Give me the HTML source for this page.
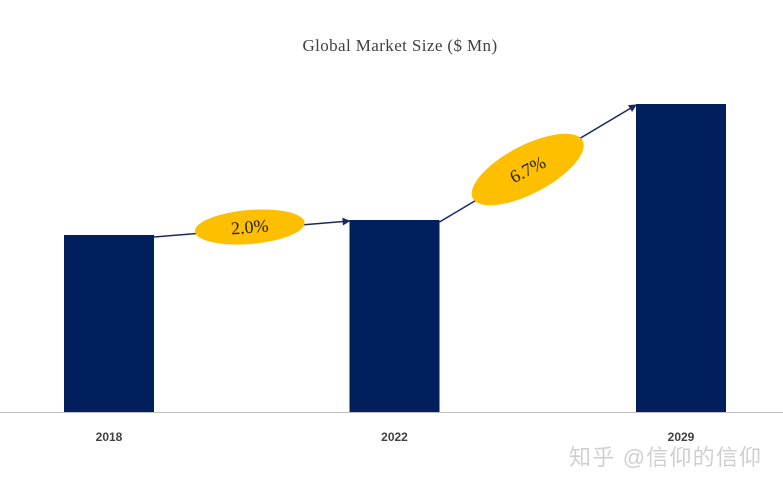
<!DOCTYPE html>
<html><head><meta charset="utf-8"><style>
body{margin:0;background:#fff;width:783px;height:488px;overflow:hidden}
svg{display:block}
</style></head><body>
<svg width="783" height="488">
<defs><marker id="ah" markerWidth="8" markerHeight="8" refX="7" refY="4" orient="auto" markerUnits="userSpaceOnUse"><path d="M0,0 L8,4 L0,8 Z" fill="#1a2a5e"/></marker></defs>
<text x="400" y="51" text-anchor="middle" font-family="'Liberation Serif',serif" font-size="17" letter-spacing="0.4" fill="#404040">Global Market Size ($ Mn)</text>
<line x1="0" y1="412.5" x2="783" y2="412.5" stroke="#bfbfbf" stroke-width="1"/>
<g id="bars"></g>
<g id="growth"></g>
<text x="569" y="465" font-family="'Liberation Sans','Noto Sans CJK SC',sans-serif" font-size="22" letter-spacing="1.2" fill="#cfcfcf">知乎 @信仰的信仰</text>
</svg>
<script>
const categories=['2018','2022','2029'];
const values=[177,192,308];
const growthLabels=['2.0%','6.7%'];
const baseY=412, scale=1, barW=90;
const centers=[109,394.5,681];
const ns='http://www.w3.org/2000/svg';
function y(v){return baseY-v*scale;}
const gb=document.getElementById('bars');
categories.forEach((c,i)=>{
 const r=document.createElementNS(ns,'rect');
 r.setAttribute('x',centers[i]-barW/2);r.setAttribute('y',y(values[i]));
 r.setAttribute('width',barW);r.setAttribute('height',baseY-y(values[i]));
 r.setAttribute('fill','#001f5c');
 
 
 gb.appendChild(r);
 const t=document.createElementNS(ns,'text');
 t.setAttribute('x',centers[i]);t.setAttribute('y',441);t.setAttribute('text-anchor','middle');
 t.setAttribute('font-family','Liberation Sans, sans-serif');t.setAttribute('font-size','12');t.setAttribute('font-weight','bold');t.setAttribute('fill','#404040');
 t.textContent=c;
 
 
 gb.appendChild(t);
});
const gg=document.getElementById('growth');
growthLabels.forEach((lab,i)=>{
 const x1=centers[i]+barW/2, y1=y(values[i])+2, x2=centers[i+1]-barW/2, y2=y(values[i+1])+1;
 const l=document.createElementNS(ns,'line');
 l.setAttribute('x1',x1);l.setAttribute('y1',y1);l.setAttribute('x2',x2);l.setAttribute('y2',y2);
 l.setAttribute('stroke','#1a2a5e');l.setAttribute('stroke-width','1.5');l.setAttribute('marker-end','url(#ah)');
 
 
 gg.appendChild(l);
 const cx=(x1+x2)/2-(i?10:2), cy=(y1+y2)/2+(i?6:-2);
 const ang=Math.atan2(y2-y1,x2-x1)*180/Math.PI*(i?0.9:1);
 const g=document.createElementNS(ns,'g');
 g.setAttribute('transform','translate('+cx+','+cy+') rotate('+ang+')');
 
 
 const e=document.createElementNS(ns,'ellipse');
 e.setAttribute('rx',i?62:55);e.setAttribute('ry',i?24:17);e.setAttribute('fill','#fdbf00');
 g.appendChild(e);
 const t=document.createElementNS(ns,'text');
 t.setAttribute('y',6);t.setAttribute('text-anchor','middle');
 t.setAttribute('font-family','Liberation Serif, serif');t.setAttribute('font-size','18');t.setAttribute('fill','#222');
 t.textContent=lab;
 g.appendChild(t);
 gg.appendChild(g);
});
</script>
</body></html>
